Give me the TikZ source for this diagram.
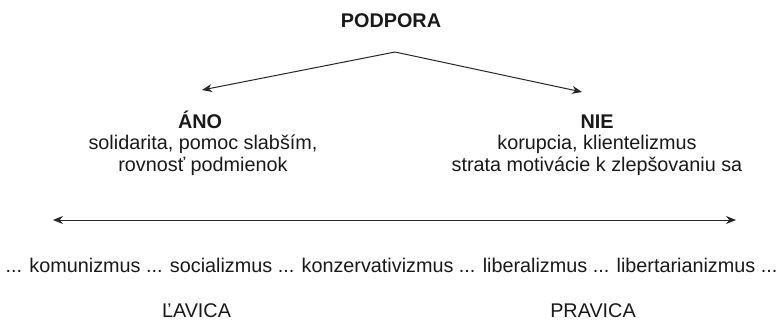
\documentclass[tikz,border=0pt]{standalone}
\usepackage{fontspec}
\setmainfont{Liberation Sans}
\usetikzlibrary{arrows.meta}
\begin{document}
\begin{tikzpicture}[x=1pt,y=-1pt,
  lbl/.style={font=\fontsize{19.8}{24}\selectfont, inner sep=0pt, anchor=base, text=black!90},
  hd/.style={font=\fontsize{19.8}{24}\selectfont\bfseries, inner sep=0pt, anchor=base, text=black!90},
  arr/.style={line width=1pt, draw=black!85, -{Stealth[length=10pt,width=8pt]}},
  darr/.style={line width=1pt, draw=black!85, {Stealth[length=10pt,width=8pt]}-{Stealth[length=10pt,width=8pt]}}]
\useasboundingbox (0,0) rectangle (782,322);
\node[hd] (podpora) at (391,27) {PODPORA};
\coordinate (apex) at (395,52);
\coordinate (ltip) at (202,90);
\coordinate (rtip) at (582,92);
\draw[arr] (apex) -- (ltip);
\draw[arr] (apex) -- (rtip);
\node[hd] (ano) at (200,128) {ÁNO};
\node[lbl] (ano1) at (203,149) {solidarita, pomoc slabším,};
\node[lbl] (ano2) at (203,171) {rovnosť podmienok};
\node[hd] (nie) at (597,128) {NIE};
\node[lbl] (nie1) at (597,149) {korupcia, klientelizmus};
\node[lbl] (nie2) at (597,171) {strata motivácie k zlepšovaniu sa};
\coordinate (lend) at (53,220);
\coordinate (rend) at (736,220);
\draw[darr] (lend) -- (rend);
\node[lbl] (ideo) at (391.5,272) {... komunizmus ... socializmus ... konzervativizmus ... liberalizmus ... libertarianizmus ...};
\node[lbl] (lavica) at (196.5,317) {ĽAVICA};
\node[lbl] (pravica) at (593,317) {PRAVICA};
\end{tikzpicture}
\end{document}
